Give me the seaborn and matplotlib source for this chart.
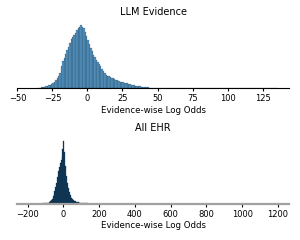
import numpy as np
import pandas as pd
import matplotlib
matplotlib.use("Agg")
import matplotlib.pyplot as plt
import seaborn as sns

# LLM evidence: relative counts per 1-unit bin, first bin starts at -36
llm_start = -36
llm_width = 1
llm_counts = [
    5, 10, 14, 18, 22, 28, 34, 40, 50, 60, 75, 92, 110, 135, 165, 200,
    240, 360, 430, 480, 540, 610, 660, 720, 780, 810, 840, 880, 920, 950,
    980, 1000, 975, 950, 900, 830, 770, 700, 640, 590, 530, 490, 455, 425,
    385, 350, 310, 270, 245, 220, 200, 190, 180, 170, 160, 150, 140, 128,
    118, 110, 102, 96, 92, 88, 80, 72, 64, 58, 54, 50, 46, 42, 38, 34, 31,
    28, 25, 22, 20, 17, 15, 14, 12, 11, 10, 9, 8, 7, 6, 5, 5, 4, 3, 3, 2, 1,
]
llm_end = 136

# All EHR: relative counts per 5-unit bin, first bin starts at -190
ehr_start = -190
ehr_width = 5
ehr_counts = [
    1, 1, 1, 2, 2, 2, 2, 3, 3, 3, 4, 4, 5, 6, 7, 8, 9, 10, 12, 14, 17, 22,
    30, 42, 60, 85, 120, 160, 210, 270, 340, 430, 520, 590, 650, 700, 760,
    870, 1000, 820, 600, 440, 330, 250, 190, 150, 115, 95, 75, 62, 52, 45,
    38, 33, 29, 25, 22, 19, 17, 15, 13, 12, 11, 10, 9, 8, 7, 6, 6, 5, 5, 4,
    4, 4, 3, 3, 3, 3, 2, 2, 2, 2, 2, 2, 2, 2, 1, 1, 1, 1, 1, 1, 1, 1, 1, 1,
    1, 1,
]
ehr_end = 1195

panels = [
    ("LLM Evidence", llm_start, llm_width, llm_counts, llm_end, (-50, 144)),
    ("All EHR", ehr_start, ehr_width, ehr_counts, ehr_end, (-257, 1263)),
]

fig, axes = plt.subplots(2, 1, figsize=(3, 2.4), dpi=100)
fig.subplots_adjust(left=0.058, right=0.964, top=0.908, bottom=0.15, hspace=0.74)

for i, (ax, (title, start, width, counts, end, xlim)) in enumerate(zip(axes, panels)):
    df = pd.DataFrame({
        "value": start + width * (np.arange(len(counts)) + 0.5),
        "count": counts,
    })
    if i == 0:
        sns.histplot(data=df, x="value", weights="count",
                     binwidth=width, binrange=(start, end), ax=ax)
    else:
        # very fine bins in the original -> bars look dark navy
        sns.histplot(data=df, x="value", weights="count",
                     binwidth=width, binrange=(start, end), ax=ax,
                     color="#123a58", alpha=1, edgecolor="#0c2f4a", linewidth=0.2)
        ax.spines["bottom"].set_color("#a0a0a0")
        ax.spines["bottom"].set_linewidth(1.6)
    ax.set_xlim(*xlim)
    ax.set_title(title, fontsize=7, pad=5)
    ax.set_xlabel("Evidence-wise Log Odds", fontsize=6.2, labelpad=2)
    ax.set_ylabel("")
    ax.set_yticks([])
    ax.tick_params(axis="x", labelsize=6, length=2.5, pad=1.5)
    sns.despine(ax=ax, left=True)

fig.savefig("out.png", dpi=100)
